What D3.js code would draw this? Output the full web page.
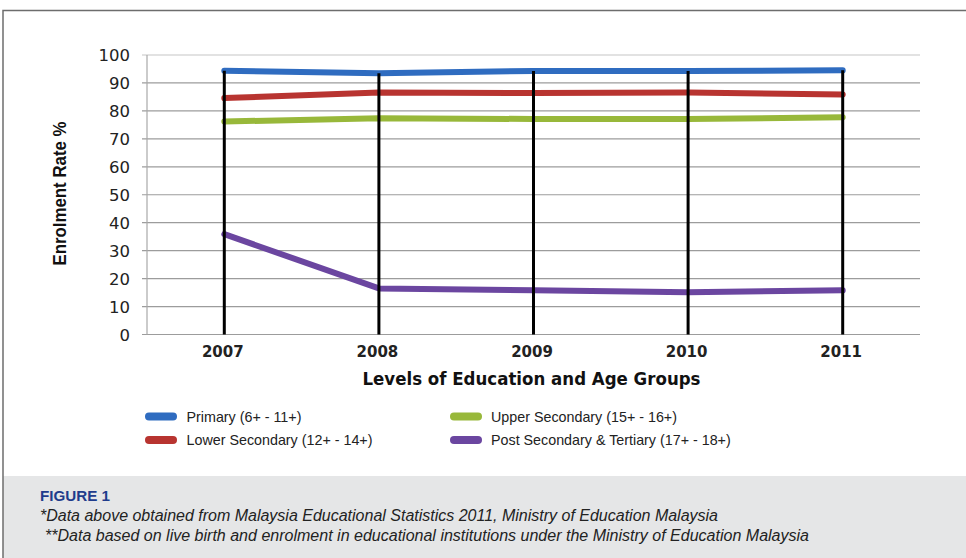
<!DOCTYPE html>
<html><head><meta charset="utf-8">
<script src="https://cdn.jsdelivr.net/npm/d3@7"></script>
<style>
body{margin:0;background:#fff;}
svg{display:block;}
</style></head>
<body>
<svg id="c" width="966" height="558"></svg>
<script>
const years = ["2007","2008","2009","2010","2011"];
const primary = [94.4, 93.5, 94.3, 94.3, 94.5];
const lowerSecondary = [84.6, 86.6, 86.4, 86.6, 85.9];
const upperSecondary = [76.2, 77.4, 77.1, 77.1, 77.7];
const postSecondary = [35.9, 16.5, 15.8, 15.1, 15.8];
const yTicks = [0,10,20,30,40,50,60,70,80,90,100];
const seriesNames = ["Primary (6+ - 11+)","Lower Secondary (12+ - 14+)","Upper Secondary (15+ - 16+)","Post Secondary & Tertiary (17+ - 18+)"];
const seriesColors = ["#2f6cc0","#b83430","#98b83a","#6b46a0"];
const seriesData = [primary, lowerSecondary, upperSecondary, postSecondary];

const svg = d3.select("#c");
const font = "'Liberation Sans', Arial, sans-serif";
const wide = "'DejaVu Sans', Verdana, sans-serif";

// frame
svg.append("rect").attr("x",3).attr("y",476).attr("width",963).attr("height",82).attr("fill","#e5e6e7");
svg.append("path").attr("d","M3,558 V10.5 H966").attr("fill","none").attr("stroke","#6d6d6d").attr("stroke-width",1.5);

const x = d3.scaleBand().domain(years).range([147,920]).padding(0);
const y = d3.scaleLinear().domain([0,100]).range([334.5,55]);

// grid
svg.append("g").selectAll("line").data(yTicks).join("line")
  .attr("x1",142).attr("x2",920).attr("y1",d=>y(d)).attr("y2",d=>y(d))
  .attr("stroke",d=>d===100?"#c6c6c6":"#9c9c9c").attr("stroke-width",1.2);
svg.append("line").attr("x1",147).attr("x2",147).attr("y1",y(100)).attr("y2",y(0)).attr("stroke","#a8a8a8").attr("stroke-width",1.2);

// y tick labels
svg.append("g").selectAll("text").data(yTicks).join("text")
  .attr("x",130).attr("y",d=>y(d)).attr("dy","0.38em").attr("text-anchor","end")
  .attr("font-family",wide).attr("font-size",16.5).attr("fill","#222").text(d=>d);

// x tick labels
svg.append("g").selectAll("text").data(years).join("text")
  .attr("x",d=>x(d)+x.bandwidth()/2 - 1.5).attr("y",357).attr("text-anchor","middle")
  .attr("font-family",wide).attr("font-weight","bold").attr("font-size",15).attr("fill","#222").text(d=>d);

// axis titles
svg.append("text").attr("transform","translate(66,193.5) rotate(-90)").attr("text-anchor","middle")
  .attr("font-family",font).attr("font-weight","bold").attr("font-size",19).attr("fill","#111")
  .attr("textLength",144).attr("lengthAdjust","spacingAndGlyphs").text("Enrolment Rate %");
svg.append("text").attr("x",531.5).attr("y",385).attr("text-anchor","middle")
  .attr("font-family",wide).attr("font-weight","bold").attr("font-size",17.5).attr("fill","#111")
  .attr("textLength",338).attr("lengthAdjust","spacingAndGlyphs").text("Levels of Education and Age Groups");

// series lines
const line = d3.line().x((d,i)=>x(years[i])+x.bandwidth()/2).y(d=>y(d));
svg.append("g").selectAll("path").data(seriesData).join("path")
  .attr("d",d=>line(d)).attr("fill","none").attr("stroke",(d,i)=>seriesColors[i])
  .attr("stroke-width",6).attr("stroke-linecap","round").attr("stroke-linejoin","round");

// drop lines
svg.append("g").selectAll("line").data(years).join("line")
  .attr("x1",d=>x(d)+x.bandwidth()/2).attr("x2",d=>x(d)+x.bandwidth()/2)
  .attr("y1",(d,i)=>y(primary[i])).attr("y2",y(0))
  .attr("stroke","#000").attr("stroke-width",3);

// legend
const legPos = [[145,416.5],[145,440],[450,416.5],[450,440]];
const leg = svg.append("g").selectAll("g").data(seriesNames).join("g")
  .attr("transform",(d,i)=>`translate(${legPos[i][0]},${legPos[i][1]})`);
leg.append("rect").attr("x",0).attr("y",-4).attr("width",32).attr("height",8).attr("rx",4)
  .attr("fill",(d,i)=>seriesColors[i]);
leg.append("text").attr("x",(d,i)=>i<2?41.5:41).attr("y",0).attr("dy","0.35em")
  .attr("font-family",font).attr("font-size",14.3).attr("fill","#222").text(d=>d);

// caption
svg.append("text").attr("x",40).attr("y",500.5).attr("font-family",font).attr("font-weight","bold")
  .attr("font-size",15.5).attr("fill","#1f3c8c").attr("textLength",70).attr("lengthAdjust","spacingAndGlyphs").text("FIGURE 1");
svg.append("text").attr("x",40).attr("y",520.5).attr("font-family",font).attr("font-style","italic")
  .attr("font-size",16).attr("fill","#222").attr("textLength",678).attr("lengthAdjust","spacingAndGlyphs")
  .text("*Data above obtained from Malaysia Educational Statistics 2011, Ministry of Education Malaysia");
svg.append("text").attr("x",45).attr("y",540.5).attr("font-family",font).attr("font-style","italic")
  .attr("font-size",16).attr("fill","#222").attr("textLength",764).attr("lengthAdjust","spacingAndGlyphs")
  .text("**Data based on live birth and enrolment in educational institutions under the Ministry of Education Malaysia");
</script>
</body></html>
